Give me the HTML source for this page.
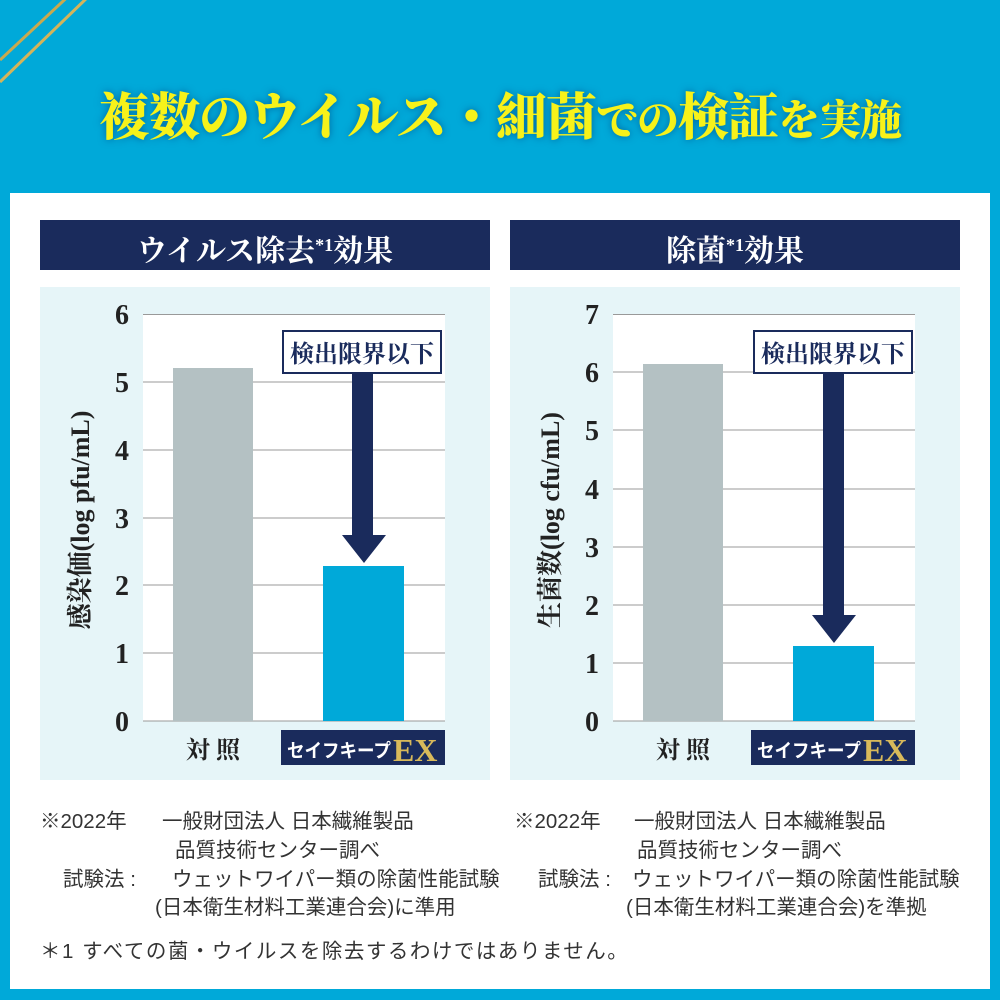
<!DOCTYPE html>
<html><head><meta charset="utf-8"><style>
*{margin:0;padding:0;box-sizing:border-box}
body{width:1000px;height:1000px;background:#00a9d9;position:relative;overflow:hidden;font-family:"Liberation Sans","Noto Sans CJK JP",sans-serif}
.a{position:absolute}
.ser{font-family:"Liberation Serif","Noto Serif CJK SC",serif}
.title{left:0;width:1000px;top:76px;text-align:center;color:#f7f21a;font-weight:900;font-size:51px;white-space:nowrap;text-shadow:0 0 8px rgba(0,60,120,.6);letter-spacing:-1px}
.title .s{font-size:42px}
.hdr{background:#1a2b5c;color:#fff;height:50px;width:450px;top:220px;text-align:center;font-size:30px;line-height:50px;font-weight:bold}
.hdr sup{font-size:18px;vertical-align:10px}
.cbg{background:#e6f5f8;width:450px;height:493px;top:287px}
.note{color:#333;font-size:20.5px;white-space:nowrap}
</style></head><body>
<svg class="a" style="left:0;top:0" width="100" height="100"><line x1="0" y1="60" x2="75" y2="-10" stroke="#c9a94e" stroke-width="3"/><line x1="0" y1="82" x2="90" y2="-5" stroke="#d4b45a" stroke-width="3"/></svg>
<div class="a title ser">複数のウイルス・細菌<span class="s">での</span>検証<span class="s">を実施</span></div>
<div class="a" style="left:10px;top:193px;width:980px;height:796px;background:#fff"></div>

<div class="a hdr ser" style="left:40px">ウイルス除去<sup>*1</sup>効果</div>
<div class="a hdr ser" style="left:510px">除菌<sup>*1</sup>効果</div>
<div class="a cbg" style="left:40px"></div>
<div class="a cbg" style="left:510px"></div>

<svg class="a" style="left:0;top:0" width="1000" height="1000" font-family="Liberation Serif,Noto Serif CJK SC,serif">
<!-- left chart -->
<rect x="143" y="314" width="302" height="407" fill="#fff"/>
<g stroke="#999" stroke-width="1">
<line x1="143" y1="314.5" x2="445" y2="314.5"/><line x1="143" y1="382" x2="445" y2="382"/><line x1="143" y1="450" x2="445" y2="450"/><line x1="143" y1="518" x2="445" y2="518"/><line x1="143" y1="585" x2="445" y2="585"/><line x1="143" y1="653" x2="445" y2="653"/><line x1="143" y1="721" x2="445" y2="721"/>
</g>
<g font-size="28" font-weight="bold" fill="#222" text-anchor="middle">
<text x="122" y="324">6</text><text x="122" y="392">5</text><text x="122" y="460">4</text><text x="122" y="528">3</text><text x="122" y="595">2</text><text x="122" y="663">1</text><text x="122" y="731">0</text>
</g>
<rect x="173" y="368" width="80" height="353" fill="#b4c1c3"/>
<rect x="323" y="566" width="81" height="155" fill="#00a9d9"/>
<rect x="352" y="373" width="21" height="165" fill="#1a2b5c"/>
<polygon points="342,535 386,535 364,563" fill="#1a2b5c"/>
<rect x="283" y="331" width="158" height="42" fill="#fff" stroke="#1a2b5c" stroke-width="2"/>
<text x="362" y="362" font-size="24" font-weight="bold" fill="#1a2b5c" text-anchor="middle">検出限界以下</text>
<text transform="translate(89,520) rotate(-90)" font-size="26" fill="#222" font-weight="bold" text-anchor="middle">感染価(log pfu/mL)</text>
<text x="213" y="758" font-size="24" fill="#222" font-weight="bold" text-anchor="middle">対 照</text>
<rect x="281" y="730" width="164" height="35" fill="#1a2b5c"/>
<text x="287" y="757" font-size="19" fill="#fff" font-weight="bold" textLength="104" lengthAdjust="spacingAndGlyphs" font-family="Liberation Sans,Noto Sans CJK JP,sans-serif">セイフキープ</text>
<text x="393" y="761" font-size="32" fill="#d8b95a" font-weight="bold">EX</text>

<!-- right chart -->
<rect x="613" y="314" width="302" height="407" fill="#fff"/>
<g stroke="#999" stroke-width="1">
<line x1="613" y1="314.5" x2="915" y2="314.5"/><line x1="613" y1="372" x2="915" y2="372"/><line x1="613" y1="430" x2="915" y2="430"/><line x1="613" y1="489" x2="915" y2="489"/><line x1="613" y1="547" x2="915" y2="547"/><line x1="613" y1="605" x2="915" y2="605"/><line x1="613" y1="663" x2="915" y2="663"/><line x1="613" y1="721" x2="915" y2="721"/>
</g>
<g font-size="28" font-weight="bold" fill="#222" text-anchor="middle">
<text x="592" y="324">7</text><text x="592" y="382">6</text><text x="592" y="440">5</text><text x="592" y="499">4</text><text x="592" y="557">3</text><text x="592" y="615">2</text><text x="592" y="673">1</text><text x="592" y="731">0</text>
</g>
<rect x="643" y="364" width="80" height="357" fill="#b4c1c3"/>
<rect x="793" y="646" width="81" height="75" fill="#00a9d9"/>
<rect x="823" y="373" width="21" height="245" fill="#1a2b5c"/>
<polygon points="812,615 856,615 834,643" fill="#1a2b5c"/>
<rect x="754" y="331" width="158" height="42" fill="#fff" stroke="#1a2b5c" stroke-width="2"/>
<text x="833" y="362" font-size="24" font-weight="bold" fill="#1a2b5c" text-anchor="middle">検出限界以下</text>
<text transform="translate(559,520) rotate(-90)" font-size="26" fill="#222" font-weight="bold" text-anchor="middle">生菌数(log cfu/mL)</text>
<text x="683" y="758" font-size="24" fill="#222" font-weight="bold" text-anchor="middle">対 照</text>
<rect x="751" y="730" width="164" height="35" fill="#1a2b5c"/>
<text x="757" y="757" font-size="19" fill="#fff" font-weight="bold" textLength="104" lengthAdjust="spacingAndGlyphs" font-family="Liberation Sans,Noto Sans CJK JP,sans-serif">セイフキープ</text>
<text x="863" y="761" font-size="32" fill="#d8b95a" font-weight="bold">EX</text>
</svg>

<div class="a note" style="left:40px;top:804px">※2022年</div>
<div class="a note" style="left:162px;top:804px">一般財団法人 日本繊維製品</div>
<div class="a note" style="left:175px;top:833px">品質技術センター調べ</div>
<div class="a note" style="left:63px;top:862px">試験法 :</div>
<div class="a note" style="left:172px;top:862px">ウェットワイパー類の除菌性能試験</div>
<div class="a note" style="left:155px;top:890px">(日本衛生材料工業連合会)に準用</div>

<div class="a note" style="left:514px;top:804px">※2022年</div>
<div class="a note" style="left:634px;top:804px">一般財団法人 日本繊維製品</div>
<div class="a note" style="left:637px;top:833px">品質技術センター調べ</div>
<div class="a note" style="left:538px;top:862px">試験法 :</div>
<div class="a note" style="left:632px;top:862px">ウェットワイパー類の除菌性能試験</div>
<div class="a note" style="left:626px;top:890px">(日本衛生材料工業連合会)を準拠</div>

<div class="a note" style="left:40px;top:934px;letter-spacing:1.5px">＊1 すべての菌・ウイルスを除去するわけではありません。</div>
</body></html>
